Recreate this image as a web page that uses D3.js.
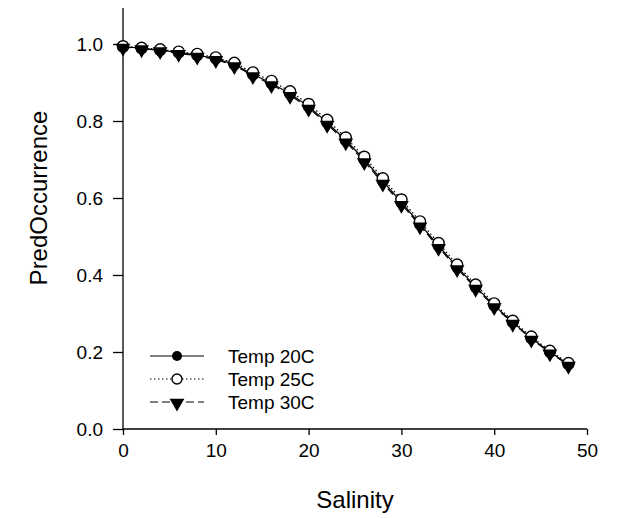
<!DOCTYPE html>
<html><head><meta charset="utf-8">
<script src="https://cdn.jsdelivr.net/npm/d3@7"></script>
<style>body{margin:0;background:#fff}svg{display:block}text{font-family:"Liberation Sans",Arial,sans-serif;fill:#000}</style>
</head><body><svg id="c" width="623" height="518"></svg>
<script>
const salinity = [0,2,4,6,8,10,12,14,16,18,20,22,24,26,28,30,32,34,36,38,40,42,44,46,48];
const temp20 = [0.993,0.989,0.984,0.978,0.971,0.962,0.947,0.921,0.898,0.871,0.838,0.796,0.750,0.700,0.644,0.589,0.532,0.476,0.421,0.369,0.321,0.277,0.236,0.200,0.168];
const temp25 = [0.994,0.990,0.986,0.980,0.974,0.965,0.951,0.926,0.904,0.877,0.844,0.803,0.757,0.707,0.651,0.596,0.539,0.483,0.427,0.375,0.326,0.281,0.240,0.203,0.171];
const temp30 = [0.992,0.988,0.983,0.976,0.969,0.960,0.944,0.918,0.895,0.867,0.834,0.792,0.746,0.695,0.639,0.584,0.528,0.472,0.417,0.366,0.318,0.275,0.234,0.198,0.166];
const seriesNames = ["Temp 20C","Temp 25C","Temp 30C"];
const xTicks = [0,10,20,30,40,50];
const yTicks = [0,0.2,0.4,0.6,0.8,1.0];

const svg = d3.select("#c");
const x = d3.scaleLinear().domain([0,50]).range([123,587]);
const y = d3.scaleLinear().domain([0,1]).range([429,44]);
const yTop = 8;

const series = [
  {name:seriesNames[0], vals:temp20, dash:null, sym:"fill"},
  {name:seriesNames[1], vals:temp25, dash:"1.5,2.5", sym:"open"},
  {name:seriesNames[2], vals:temp30, dash:"8,4", sym:"tri"}
];

// axes
const gx = svg.append("g").attr("transform","translate(0,429)")
  .call(d3.axisBottom(x).tickValues(xTicks).tickFormat(d3.format("d")).tickSizeOuter(0).tickSizeInner(6).tickPadding(9));
const gy = svg.append("g").attr("transform","translate(123,0)")
  .call(d3.axisLeft(y).tickValues(yTicks).tickFormat(d3.format(".1f")).tickSizeOuter(0).tickSizeInner(10).tickPadding(10));
[gx,gy].forEach(g=>{
  g.selectAll("path.domain").remove();
  g.selectAll("line").attr("stroke","#000").attr("stroke-width",1.3);
  g.selectAll("text").style("font-size","19px").attr("fill","#000");
});
svg.append("line").attr("x1",123).attr("x2",123).attr("y1",yTop).attr("y2",429).attr("stroke","#000").attr("stroke-width",1.3);
svg.append("line").attr("x1",123).attr("x2",587).attr("y1",429).attr("y2",429).attr("stroke","#000").attr("stroke-width",1.3);

// titles
svg.append("text").attr("x",355).attr("y",508).attr("text-anchor","middle").style("font-size","24px").text("Salinity");
svg.append("text").attr("transform","translate(47,198) rotate(-90)").attr("text-anchor","middle").style("font-size","24px").text("PredOccurrence");

// lines
const line = d3.line().x((d,i)=>x(salinity[i])).y(d=>y(d));
series.forEach(s=>{
  svg.append("path").datum(s.vals).attr("d",line).attr("fill","none").attr("stroke","#000")
    .attr("stroke-width",1.2).attr("stroke-dasharray",s.dash);
});

const tri = d3.symbol().type(d3.symbolTriangle).size(95);
function drawSym(g, kind, cx, cy){
  if(kind==="fill") g.append("circle").attr("cx",cx).attr("cy",cy).attr("r",6).attr("fill","#000");
  else if(kind==="open") g.append("circle").attr("cx",cx).attr("cy",cy).attr("r",5.6).attr("fill","#fff").attr("stroke","#000").attr("stroke-width",1.4);
  else g.append("path").attr("d",tri()).attr("transform",`translate(${cx},${cy+1}) rotate(180)`).attr("fill","#000");
}
series.forEach(s=>{
  const g = svg.append("g");
  s.vals.forEach((v,i)=>drawSym(g, s.sym, x(salinity[i]), y(v)));
});

// legend
const legY = [356,379,402];
series.forEach((s,i)=>{
  const g = svg.append("g");
  g.append("line").attr("x1",150).attr("x2",204).attr("y1",legY[i]).attr("y2",legY[i]).attr("stroke","#000").attr("stroke-width",1.2).attr("stroke-dasharray",s.dash);
  const sym = s.sym==="fill" ? "fill" : s.sym;
  if(s.sym==="fill") g.append("circle").attr("cx",177).attr("cy",legY[i]).attr("r",5).attr("fill","#000");
  else if(s.sym==="open") g.append("circle").attr("cx",177).attr("cy",legY[i]).attr("r",5).attr("fill","#fff").attr("stroke","#000").attr("stroke-width",1.4);
  else drawSym(g, "tri", 177, legY[i]);
  g.append("text").attr("x",228).attr("y",legY[i]+7).style("font-size","19px").text(s.name);
});
</script></body></html>
